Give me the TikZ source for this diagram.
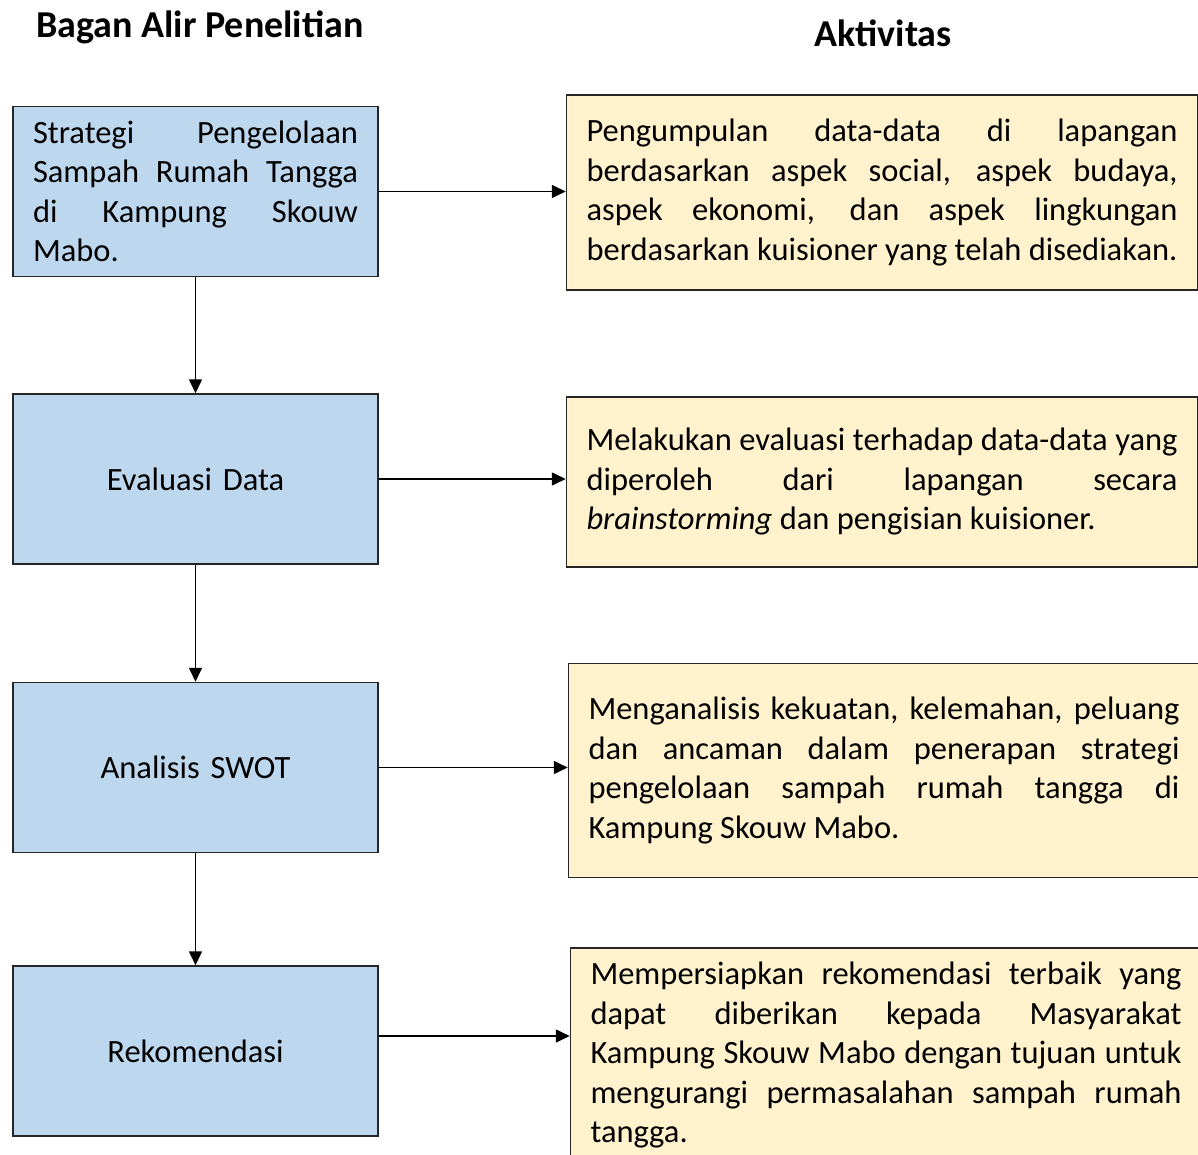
\documentclass[tikz,border=0pt]{standalone}
\usepackage{fontspec}
\setmainfont{Carlito}
\usetikzlibrary{arrows.meta,positioning}
\definecolor{boxblue}{HTML}{BDD7EE}
\definecolor{boxyellow}{HTML}{FFF2CC}
\hyphenpenalty=10000
\exhyphenpenalty=10000

\tikzset{
	base/.style={draw=black!85, line width=1.5pt, inner xsep=20pt, inner ysep=2pt, font=\fontsize{32.5pt}{39.5pt}\selectfont},
	flow/.style={base, fill=boxblue, align=center, text width=325pt, minimum height=170pt},
	act/.style={base, fill=boxyellow, align=justify, text width=591pt},
	title/.style={font=\fontsize{38pt}{44pt}\selectfont\bfseries}
}

\begin{document}
\begin{tikzpicture}[x=1pt, y=-1pt, node distance=116pt, >={Triangle[length=14pt,width=13pt]}]
			\useasboundingbox (0,0) rectangle (1198,1155);
			\node[title] (judul) at (200,27) {Bagan Alir Penelitian};
			\node[title] (aktivitas) at (883,33) {Aktivitas};
			\node[flow, align=justify] (strategi) at (195.5,191.5) {Strategi Pengelolaan\linebreak Sampah Rumah Tangga\linebreak di Kampung Skouw\linebreak Mabo.};
			\node[flow] [below=of strategi] (evaluasi) {Evaluasi Data};
			\node[flow] [below=117pt of evaluasi] (swot) {Analisis SWOT};
			\node[flow] [below=112pt of swot] (rekomendasi) {Rekomendasi};
			\node[act, minimum height=195pt] [right=187pt of strategi, yshift=-1pt] (kumpul) {Pengumpulan data-data di lapangan\linebreak berdasarkan aspek social, aspek budaya,\linebreak aspek ekonomi, dan aspek lingkungan\linebreak berdasarkan kuisioner yang telah disediakan.};
			\node[act, minimum height=170pt] [right=187pt of evaluasi, yshift=-3pt] (nilai) {Melakukan evaluasi terhadap data-data yang\linebreak diperoleh dari lapangan secara\linebreak \textit{brainstorming} dan pengisian kuisioner.};
			\node[act, minimum height=214pt] [right=189pt of swot, yshift=-3pt] (analisis) {Menganalisis kekuatan, kelemahan, peluang\linebreak dan ancaman dalam penerapan strategi\linebreak pengelolaan sampah rumah tangga di\linebreak Kampung Skouw Mabo.};
			\node[act, minimum height=214pt] [right=191pt of rekomendasi, yshift=-4pt] (siapkan) {Mempersiapkan rekomendasi terbaik yang\linebreak dapat diberikan kepada Masyarakat\linebreak Kampung Skouw Mabo dengan tujuan untuk\linebreak mengurangi permasalahan sampah rumah\linebreak tangga.};
			\path[->, line width=1.6pt]
				(strategi) edge (evaluasi)
				(evaluasi) edge (swot)
				(swot) edge (rekomendasi)
				(strategi.east) edge (strategi.east -| kumpul.west)
				(evaluasi.east) edge (evaluasi.east -| nilai.west)
				(swot.east) edge (swot.east -| analisis.west)
				([yshift=15pt]rekomendasi.east) edge ([yshift=15pt]rekomendasi.east -| siapkan.west);
		\end{tikzpicture}
\end{document}
